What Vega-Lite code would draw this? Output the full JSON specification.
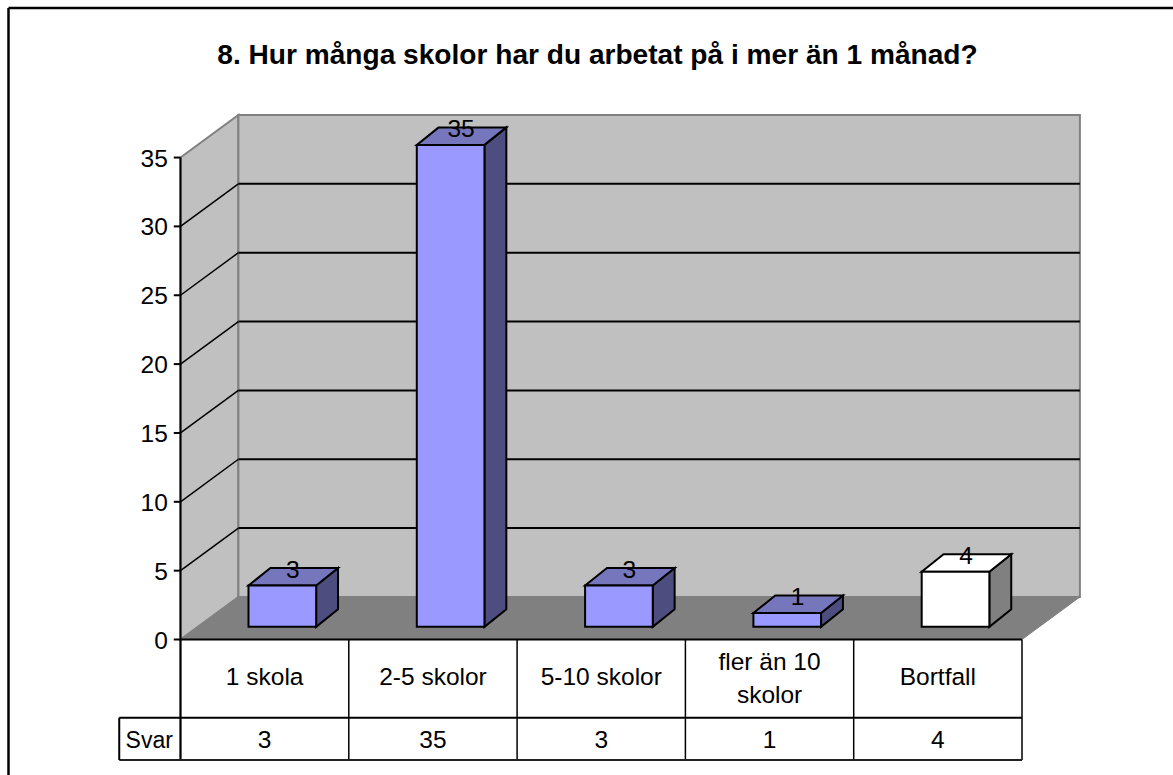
{
"$schema":"https://vega.github.io/schema/vega-lite/v6.json",
"width":1173,"height":775,"padding":0,"autosize":{"type":"none"},
"background":"white",
"title":{"text":"8. Hur många skolor har du arbetat på i mer än 1 månad?","font":"Liberation Sans","fontSize":28.1,"fontWeight":"bold","color":"black","anchor":"middle","frame":"group","offset":-70,"dx":11},
"config":{"view":{"stroke":null},"font":"Liberation Sans"},
"datasets":{
"svar":[
{"plats":0,"kategori":"1 skola","Svar":3},
{"plats":1,"kategori":"2-5 skolor","Svar":35},
{"plats":2,"kategori":"5-10 skolor","Svar":3},
{"plats":3,"kategori":"fler än 10\nskolor","Svar":1},
{"plats":4,"kategori":"Bortfall","Svar":4}],
"skala":[{"tick":0},{"tick":5},{"tick":10},{"tick":15},{"tick":20},{"tick":25},{"tick":30},{"tick":35}],
"djup":[{"d":0},{"d":1}],
"en":[{"n":1}],
"grans":[{"g":0},{"g":1},{"g":2},{"g":3},{"g":4},{"g":5}]
},
"layer":[
{"data":{"name":"djup"},"transform":[{"calculate":"datum.d*0.344","as":"x"},{"calculate":"datum.d*3.09","as":"y0"},{"calculate":"35+datum.d*3.09","as":"y1"}],
 "mark":{"type":"area","fill":"#C0C0C0","stroke":"#808080","strokeWidth":2},
 "encoding":{"x":{"field":"x","type":"quantitative","axis":null,"scale":{"domain":[-1.0725,5.8972],"nice":false,"zero":false}},"y":{"field":"y1","type":"quantitative","axis":null,"scale":{"domain":[-9.84,46.442],"nice":false,"zero":false}},"y2":{"field":"y0"}}},
{"data":{"name":"en"},"mark":{"type":"rect","fill":"#C0C0C0","stroke":"#808080","strokeWidth":2},
 "encoding":{"x":{"datum":0.344,"type":"quantitative"},"x2":{"datum":5.344},"y":{"datum":3.09,"type":"quantitative"},"y2":{"datum":38.09}}},
{"data":{"name":"djup"},"transform":[{"calculate":"datum.d*0.344","as":"x0"},{"calculate":"5+datum.d*0.344","as":"x1"},{"calculate":"datum.d*3.09","as":"y"}],
 "mark":{"type":"area","orient":"horizontal","fill":"#808080","stroke":"#808080","strokeWidth":1},
 "encoding":{"y":{"field":"y","type":"quantitative"},"x":{"field":"x0","type":"quantitative"},"x2":{"field":"x1"}}},
{"data":{"name":"skala"},"transform":[{"filter":"datum.tick>0 && datum.tick<35"},{"calculate":"datum.tick+3.09","as":"bak"}],
 "mark":{"type":"rule","color":"black","strokeWidth":1.5},
 "encoding":{"x":{"datum":0,"type":"quantitative"},"x2":{"datum":0.344},"y":{"field":"tick","type":"quantitative"},"y2":{"field":"bak"}}},
{"data":{"name":"skala"},"transform":[{"filter":"datum.tick>0 && datum.tick<35"},{"calculate":"datum.tick+3.09","as":"bak"}],
 "mark":{"type":"rule","color":"black","strokeWidth":2},
 "encoding":{"x":{"datum":0.344,"type":"quantitative"},"x2":{"datum":5.344},"y":{"field":"bak","type":"quantitative"}}},
{"data":{"name":"svar"},"transform":[{"calculate":"[0,1]","as":"d"},{"flatten":["d"]},{"calculate":"datum.plats+0.806+datum.d*0.13","as":"x"},{"calculate":"0.92+datum.d*1.27","as":"y0"},{"calculate":"0.92+datum.Svar+datum.d*1.27","as":"y1"}],
 "mark":{"type":"area","stroke":"black","strokeWidth":2},
 "encoding":{"x":{"field":"x","type":"quantitative"},"y":{"field":"y1","type":"quantitative"},"y2":{"field":"y0"},"detail":{"field":"kategori"},
 "fill":{"condition":{"test":"datum.kategori==='Bortfall'","value":"#808080"},"value":"#4D4D80"}}},
{"data":{"name":"svar"},"transform":[{"calculate":"[0,1]","as":"d"},{"flatten":["d"]},{"calculate":"datum.plats+0.404+datum.d*0.13","as":"x0"},{"calculate":"datum.plats+0.806+datum.d*0.13","as":"x1"},{"calculate":"0.92+datum.Svar+datum.d*1.27","as":"y"}],
 "mark":{"type":"area","orient":"horizontal","stroke":"black","strokeWidth":2},
 "encoding":{"y":{"field":"y","type":"quantitative"},"x":{"field":"x0","type":"quantitative"},"x2":{"field":"x1"},"detail":{"field":"kategori"},
 "fill":{"condition":{"test":"datum.kategori==='Bortfall'","value":"#FFFFFF"},"value":"#7676BD"}}},
{"data":{"name":"svar"},"transform":[{"calculate":"datum.plats+0.404","as":"x0"},{"calculate":"datum.plats+0.806","as":"x1"},{"calculate":"0.92+datum.Svar","as":"y1"},{"calculate":"0.92","as":"y0"}],
 "mark":{"type":"rect","stroke":"black","strokeWidth":2},
 "encoding":{"x":{"field":"x0","type":"quantitative"},"x2":{"field":"x1"},"y":{"field":"y1","type":"quantitative"},"y2":{"field":"y0"},
 "fill":{"condition":{"test":"datum.kategori==='Bortfall'","value":"#FFFFFF"},"value":"#9999FF"}}},
{"data":{"name":"svar"},"transform":[{"calculate":"datum.plats+0.667","as":"x"},{"calculate":"datum.Svar+2.0","as":"y"}],
 "mark":{"type":"text","fontSize":24.5,"color":"black","align":"center","baseline":"middle"},
 "encoding":{"x":{"field":"x","type":"quantitative"},"y":{"field":"y","type":"quantitative"},"text":{"field":"Svar"}}},
{"data":{"name":"en"},"mark":{"type":"rule","color":"black","strokeWidth":2},
 "encoding":{"x":{"datum":0,"type":"quantitative"},"y":{"datum":35,"type":"quantitative"},"y2":{"datum":-8.75}}},
{"data":{"name":"skala"},"mark":{"type":"rule","color":"black","strokeWidth":2},
 "encoding":{"x":{"datum":-0.04,"type":"quantitative"},"x2":{"datum":0},"y":{"field":"tick","type":"quantitative"}}},
{"data":{"name":"skala"},"mark":{"type":"text","fontSize":24.5,"color":"black","align":"right","baseline":"middle","dy":2},
 "encoding":{"x":{"datum":-0.075,"type":"quantitative"},"y":{"field":"tick","type":"quantitative"},"text":{"field":"tick"}}},
{"data":{"name":"grans"},"mark":{"type":"rule","color":"black","strokeWidth":1.5},
 "encoding":{"x":{"field":"g","type":"quantitative"},"y":{"datum":0,"type":"quantitative"},"y2":{"datum":-8.75}}},
{"data":{"name":"en"},"mark":{"type":"rule","color":"black","strokeWidth":2},
 "encoding":{"x":{"datum":0,"type":"quantitative"},"x2":{"datum":5},"y":{"datum":0,"type":"quantitative"}}},
{"data":{"name":"en"},"mark":{"type":"rule","color":"black","strokeWidth":2},
 "encoding":{"x":{"datum":-0.364,"type":"quantitative"},"x2":{"datum":5},"y":{"datum":-5.68,"type":"quantitative"}}},
{"data":{"name":"en"},"mark":{"type":"rule","color":"#222222","strokeWidth":2},
 "encoding":{"x":{"datum":-0.364,"type":"quantitative"},"x2":{"datum":5},"y":{"datum":-8.75,"type":"quantitative"}}},
{"data":{"name":"en"},"mark":{"type":"rule","color":"black","strokeWidth":2},
 "encoding":{"x":{"datum":-0.364,"type":"quantitative"},"y":{"datum":-5.68,"type":"quantitative"},"y2":{"datum":-8.75}}},
{"data":{"name":"svar"},"transform":[{"calculate":"datum.plats+0.5","as":"x"},{"calculate":"datum.plats===3 ? -1.72 : -2.78","as":"y"}],
 "mark":{"type":"text","fontSize":24.5,"color":"black","align":"center","baseline":"middle","lineBreak":"\n","lineHeight":33},
 "encoding":{"x":{"field":"x","type":"quantitative"},"y":{"field":"y","type":"quantitative"},"text":{"field":"kategori"}}},
{"data":{"name":"svar"},"transform":[{"calculate":"datum.plats+0.5","as":"x"}],
 "mark":{"type":"text","fontSize":24.5,"color":"black","align":"center","baseline":"middle"},
 "encoding":{"x":{"field":"x","type":"quantitative"},"y":{"datum":-7.4,"type":"quantitative"},"text":{"field":"Svar"}}},
{"data":{"name":"en"},"mark":{"type":"text","fontSize":23,"color":"black","align":"center","baseline":"middle"},
 "encoding":{"x":{"datum":-0.186,"type":"quantitative"},"y":{"datum":-7.4,"type":"quantitative"},"text":{"value":"Svar"}}},
{"data":{"name":"en"},"mark":{"type":"rule","color":"black","strokeWidth":2.5},
 "encoding":{"x":{"datum":-1.022,"type":"quantitative"},"y":{"datum":45.86,"type":"quantitative"},"y2":{"datum":-9.84}}},
{"data":{"name":"en"},"mark":{"type":"rule","color":"black","strokeWidth":2.5},
 "encoding":{"x":{"datum":-1.022,"type":"quantitative"},"x2":{"datum":5.8972},"y":{"datum":45.86,"type":"quantitative"}}}
]
}
